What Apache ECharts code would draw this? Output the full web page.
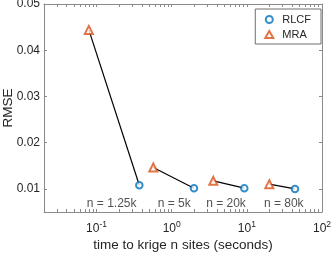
<!DOCTYPE html>
<html><head><meta charset="utf-8">
<script src="https://cdn.jsdelivr.net/npm/echarts@6/dist/echarts.min.js"></script>
<style>html,body{margin:0;padding:0;background:#fff}#c{width:332px;height:253px}</style>
</head><body><div id="c"></div>
<script>
// data (seconds, RMSE)
const rlcfTime = [0.371, 1.98, 9.25, 43.7];
const rlcfRmse = [0.0108, 0.01015, 0.01015, 0.0100];
const mraTime = [0.079, 0.569, 3.58, 19.9];
const mraRmse = [0.0444, 0.01463, 0.01174, 0.01102];
const sizeLabels = ['n = 1.25k', 'n = 5k', 'n = 20k', 'n = 80k'];
const sizeLabelTime = [0.159, 1.08, 5.28, 31.0];
const sizeLabelRmse = [0.00674, 0.00674, 0.00674, 0.00674];
const xMajorTicks = [0.1, 1, 10, 100];
const xMinorTicks = [0.02,0.03,0.04,0.05,0.06,0.07,0.08,0.09,0.2,0.3,0.4,0.5,0.6,0.7,0.8,0.9,2,3,4,5,6,7,8,9,20,30,40,50,60,70,80,90];
const yTicks = [0.01, 0.02, 0.03, 0.04, 0.05];

const FONT = 'Liberation Sans, Arial, Helvetica, sans-serif';
const TXT = '#262626';
const AX = '#8a8a8a';
const BLUE = '#0072BD';
const ORANGE = '#D95319';
const TICK_FS = 12;
const TITLE_FS = 13.5;

const xTickVals = xMajorTicks.concat(xMinorTicks);

function xAxisCfg(pos, showLabels) {
  return {
    type: 'log', logBase: 10, min: 0.02, max: 100, position: pos,
    axisLine: { show: true, onZero: false, lineStyle: { color: AX, width: 1 } },
    axisTick: { show: true, inside: true, length: 3, customValues: xTickVals, lineStyle: { color: AX } },
    minorTick: { show: false },
    splitLine: { show: false },
    axisLabel: {
      show: showLabels, customValues: xMajorTicks, margin: 8,
      formatter: function (v) { return '{b|10}{s|' + Math.round(Math.log10(v)) + '}'; },
      rich: {
        b: { fontSize: TICK_FS, fontFamily: FONT, color: TXT },
        s: { fontSize: 8.5, fontFamily: FONT, color: TXT, padding: [0, 0, 8, 0] }
      }
    },
    name: showLabels ? 'time to krige n sites (seconds)' : '',
    nameLocation: 'middle', nameGap: 26, nameMoveOverlap: false,
    nameTextStyle: { fontSize: TITLE_FS, fontFamily: FONT, color: TXT }
  };
}
function yAxisCfg(pos, showLabels) {
  return {
    type: 'value', min: 0.005, max: 0.05, position: pos,
    axisLine: { show: true, onZero: false, lineStyle: { color: AX, width: 1 } },
    axisTick: { show: true, inside: true, length: 3, customValues: yTicks, lineStyle: { color: AX } },
    splitLine: { show: false },
    axisLabel: {
      show: showLabels, customValues: yTicks, margin: 4,
      fontSize: TICK_FS, fontFamily: FONT, color: TXT,
      formatter: function (v) { return v.toFixed(2); }
    },
    name: showLabels ? 'RMSE' : '',
    nameLocation: 'middle', nameGap: 29, nameMoveOverlap: false,
    nameTextStyle: { fontSize: TITLE_FS, fontFamily: FONT, color: TXT }
  };
}

const series = [];
for (let i = 0; i < rlcfTime.length; i++) {
  series.push({
    type: 'line', xAxisIndex: 0, yAxisIndex: 0, symbol: 'none', silent: true, z: 1,
    lineStyle: { color: '#000', width: 1.2 },
    data: [[mraTime[i], mraRmse[i]], [rlcfTime[i], rlcfRmse[i]]]
  });
}
series.push({
  name: 'RLCF', type: 'scatter', symbol: 'emptyCircle', symbolSize: 6.5, z: 3,
  itemStyle: { color: BLUE, borderColor: BLUE, borderWidth: 1.3 },
  data: rlcfTime.map((t, i) => [t, rlcfRmse[i]])
});
series.push({
  name: 'MRA', type: 'scatter', symbol: 'emptyTriangle', symbolSize: 8, z: 3,
  itemStyle: { color: ORANGE, borderColor: ORANGE, borderWidth: 1.3 },
  data: mraTime.map((t, i) => [t, mraRmse[i]])
});
series.push({
  type: 'scatter', symbolSize: 0, silent: true, z: 4,
  label: { show: true, position: 'inside', formatter: p => sizeLabels[p.dataIndex],
    fontSize: TICK_FS, fontFamily: FONT, color: TXT },
  data: sizeLabelTime.map((t, i) => [t, sizeLabelRmse[i]])
});

const chart = echarts.init(document.getElementById('c'), null, { renderer: 'canvas' });
chart.setOption({
  animation: false,
  backgroundColor: '#fff',
  grid: { left: 44, right: 10, top: 4, bottom: 41, containLabel: false, outerBoundsMode: 'none' },
  xAxis: [xAxisCfg('bottom', true), xAxisCfg('top', false)],
  yAxis: [yAxisCfg('left', true), yAxisCfg('right', false)],
  legend: {
    data: ['RLCF', 'MRA'], orient: 'vertical', right: 11, top: 9,
    backgroundColor: '#fff', borderColor: '#6e6e6e', borderWidth: 1,
    padding: [5, 10, 4, 9], itemGap: 4, itemWidth: 8, itemHeight: 7,
    textStyle: { fontSize: 11, fontFamily: FONT, color: TXT, padding: [0, 0, 0, 4] }
  },
  series: series
});
</script></body></html>
